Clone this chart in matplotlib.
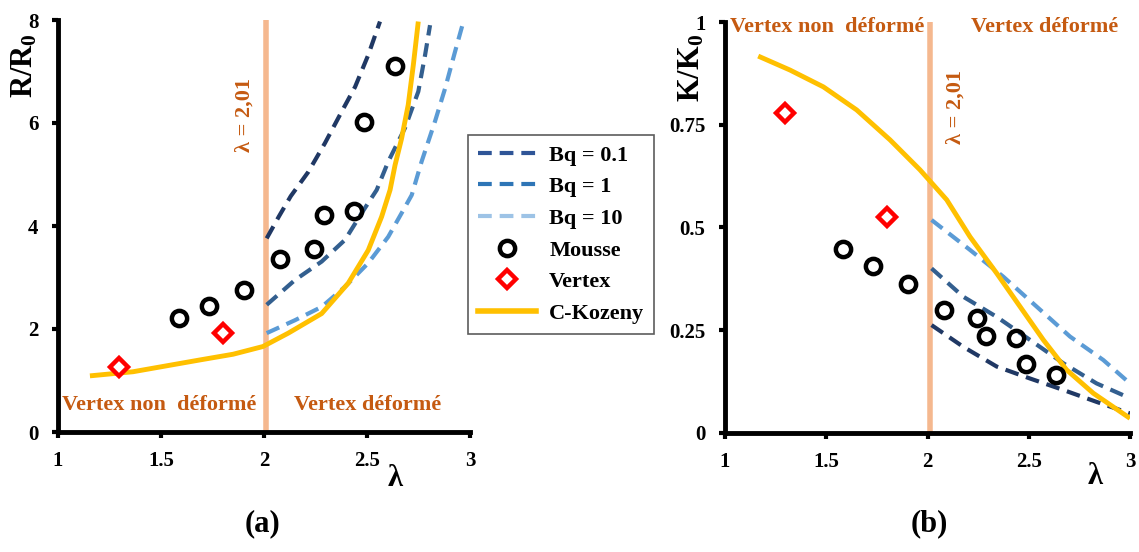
import matplotlib
matplotlib.use("Agg")
import matplotlib.pyplot as plt
from matplotlib.lines import Line2D

# ---------------- data ----------------
mousse_x = [1.585, 1.733, 1.905, 2.08, 2.245, 2.29, 2.435, 2.485, 2.635]
mousse_R = [2.21, 2.45, 2.76, 3.36, 3.55, 4.21, 4.29, 6.02, 7.10]
mousse_K = [0.448, 0.406, 0.363, 0.298, 0.280, 0.235, 0.230, 0.167, 0.140]

vertex_x = [1.295, 1.80]
vertex_R = [1.26, 1.92]
vertex_K = [0.778, 0.524]

koz_R_x = [1.155, 1.364, 1.69, 1.85, 1.995, 2.118, 2.28, 2.409, 2.506, 2.571, 2.612,
           2.636, 2.668, 2.70, 2.725, 2.749]
koz_R_y = [1.09, 1.17, 1.40, 1.51, 1.66, 1.92, 2.30, 2.89, 3.53, 4.18, 4.70,
           5.18, 5.70, 6.35, 7.13, 7.97]

koz_K_x = [1.164, 1.321, 1.486, 1.65, 1.815, 1.963, 2.095, 2.21, 2.342, 2.457,
           2.572, 2.687, 2.819, 3.0]
koz_K_y = [0.917, 0.883, 0.842, 0.786, 0.713, 0.640, 0.567, 0.477, 0.388, 0.307,
           0.226, 0.153, 0.096, 0.035]

bq01_R_x = [2.013, 2.073, 2.13, 2.215, 2.296, 2.377, 2.442, 2.506, 2.563]
bq01_R_y = [3.76, 4.19, 4.58, 5.05, 5.61, 6.22, 6.70, 7.32, 7.97]
bq1_R_x = [2.013, 2.15, 2.28, 2.393, 2.474, 2.547, 2.603, 2.684, 2.749, 2.782, 2.806]
bq1_R_y = [2.47, 2.95, 3.31, 3.73, 4.25, 4.70, 5.25, 5.90, 6.61, 7.32, 7.90]
bq10_R_x = [2.013, 2.15, 2.28, 2.393, 2.506, 2.603, 2.668, 2.717, 2.765, 2.83,
            2.879, 2.927, 2.968]
bq10_R_y = [1.92, 2.17, 2.43, 2.82, 3.28, 3.79, 4.25, 4.60, 5.25, 6.03,
            6.67, 7.38, 7.97]

bq01_K_x = [2.02, 2.177, 2.342, 2.506, 2.671, 2.835, 3.0]
bq01_K_y = [0.262, 0.209, 0.161, 0.132, 0.104, 0.075, 0.047]
bq1_K_x = [2.02, 2.177, 2.342, 2.506, 2.671, 2.835, 3.0]
bq1_K_y = [0.400, 0.331, 0.282, 0.226, 0.169, 0.120, 0.084]
bq10_K_x = [2.02, 2.21, 2.374, 2.539, 2.704, 2.868, 3.0]
bq10_K_y = [0.518, 0.445, 0.380, 0.307, 0.234, 0.177, 0.120]

lambda_c = 2.01
x_ticks = [1, 1.5, 2, 2.5, 3]
x_tick_labels = ["1", "1.5", "2", "2.5", "3"]
R_ticks = [0, 2, 4, 6, 8]
K_ticks = [0, 0.25, 0.5, 0.75, 1]
K_tick_labels = ["0", "0.25", "0.5", "0.75", "1"]

# ---------------- style ----------------
SERIF = ["Liberation Serif", "DejaVu Serif"]
plt.rcParams['font.family'] = SERIF
plt.rcParams['mathtext.fontset'] = 'custom'
plt.rcParams['mathtext.rm'] = 'Liberation Serif:bold'
plt.rcParams['mathtext.bf'] = 'Liberation Serif:bold'
plt.rcParams['mathtext.it'] = 'Liberation Serif:bold'

C01 = "#203864"
C1 = "#335f8f"
C10 = "#5b9bd5"
CK = "#ffc000"
CV = "#f4b183"
CT = "#c55a11"

fig = plt.figure(figsize=(11.39, 5.52), dpi=100)
axA = fig.add_axes([58/1139, 1-432/552, 412/1139, 412/552])
axB = fig.add_axes([725/1139, 1-432.7/552, 405/1139, 410.7/552])

dash_kw = dict(lw=3.0, dashes=(3.3, 1.9), dash_capstyle='butt')
circ_kw = dict(ls='none', marker='o', ms=11, mfc='none', mec='black', mew=3.2)
diam_kw = dict(ls='none', marker='D', ms=9.5, mfc='white', mec='red', mew=3.2)


def style(ax, ymax, yticks, ylabels):
    ax.set_xlim(1, 3)
    ax.set_ylim(0, ymax)
    for s in ['top', 'right']:
        ax.spines[s].set_visible(False)
    for s in ['left', 'bottom']:
        ax.spines[s].set_linewidth(3.5)
    ax.set_xticks(x_ticks)
    ax.set_xticklabels(x_tick_labels)
    ax.set_yticks(yticks)
    ax.set_yticklabels(ylabels)
    ax.tick_params(direction='out', length=4, width=3, labelsize=15, pad=10)
    for lab in ax.get_xticklabels() + ax.get_yticklabels():
        lab.set_fontweight('bold')
    ax.patch.set_alpha(0)


# ---------- panel (a) ----------
axA.axvline(lambda_c, color=CV, lw=4, alpha=0.9, zorder=1)
axA.plot(bq01_R_x, bq01_R_y, color=C01, **dash_kw, zorder=2)
axA.plot(bq1_R_x, bq1_R_y, color=C1, **dash_kw, zorder=2)
axA.plot(bq10_R_x, bq10_R_y, color=C10, **dash_kw, zorder=2)
axA.plot(koz_R_x, koz_R_y, color=CK, lw=3.5, zorder=3, solid_capstyle='butt')
axA.plot(mousse_x, mousse_R, **circ_kw, zorder=4)
axA.plot(vertex_x, vertex_R, **diam_kw, zorder=4)
style(axA, 8, R_ticks, [str(t) for t in R_ticks])
axA.text(1.02, 0.52, "Vertex non  déformé", color=CT, fontsize=16, fontweight='bold', ha='left', va='center')
axA.text(2.145, 0.52, "Vertex déformé", color=CT, fontsize=16, fontweight='bold', ha='left', va='center')
axA.text(1.905, 6.16, "λ = 2,01", color=CT, fontsize=16, fontweight='bold', rotation=90, ha='center', va='center')
fig.text(25/1139, 1-66/552, r"R/R$_0$", fontsize=22, fontweight='bold', rotation=90, ha='center', va='center')
fig.text(395/1139, 1-478/552, "λ", fontsize=22, fontweight='bold', ha='center', va='center')
fig.text(263/1139, 1-524/552, "(a)", fontsize=22, fontweight='bold', ha='center', va='center')

# ---------- panel (b) ----------
axB.axvline(lambda_c, color=CV, lw=4, alpha=0.9, zorder=1)
axB.plot(bq01_K_x, bq01_K_y, color=C01, **dash_kw, zorder=2)
axB.plot(bq1_K_x, bq1_K_y, color=C1, **dash_kw, zorder=2)
axB.plot(bq10_K_x, bq10_K_y, color=C10, **dash_kw, zorder=2)
axB.plot(koz_K_x, koz_K_y, color=CK, lw=3.5, zorder=3, solid_capstyle='butt')
axB.plot(mousse_x, mousse_K, **circ_kw, zorder=4)
axB.plot(vertex_x, vertex_K, **diam_kw, zorder=4)
style(axB, 1, K_ticks, K_tick_labels)
axB.text(1.025, 0.988, "Vertex non  déformé", color=CT, fontsize=16, fontweight='bold', ha='left', va='center', clip_on=False)
axB.text(2.215, 0.988, "Vertex déformé", color=CT, fontsize=16, fontweight='bold', ha='left', va='center', clip_on=False)
axB.text(2.14, 0.793, "λ = 2,01", color=CT, fontsize=16, fontweight='bold', rotation=90, ha='center', va='center')
fig.text(692/1139, 1-68/552, r"K/K$_0$", fontsize=22, fontweight='bold', rotation=90, ha='center', va='center')
fig.text(1095/1139, 1-477/552, "λ", fontsize=22, fontweight='bold', ha='center', va='center')
fig.text(929/1139, 1-524/552, "(b)", fontsize=22, fontweight='bold', ha='center', va='center')

# ---------- legend ----------
handles = [
    Line2D([], [], color="#2f5597", **dash_kw),
    Line2D([], [], color="#2e75b6", **dash_kw),
    Line2D([], [], color="#9dc3e6", **dash_kw),
    Line2D([], [], **circ_kw),
    Line2D([], [], **diam_kw),
    Line2D([], [], color=CK, lw=4),
]
labels = ["Bq = 0.1", "Bq = 1", "Bq = 10", "Mousse", "Vertex", "C-Kozeny"]
leg = fig.legend(handles, labels, loc='upper left',
                 bbox_to_anchor=(468/1139, 1-135/552),
                 prop={'family': SERIF, 'weight': 'bold', 'size': 16},
                 frameon=True, fancybox=False, edgecolor='#333333',
                 handlelength=2.6, labelspacing=0.5, borderpad=0.45,
                 handletextpad=0.6, borderaxespad=0)
leg.get_frame().set_linewidth(1.2)

fig.savefig("out.png", dpi=100)
